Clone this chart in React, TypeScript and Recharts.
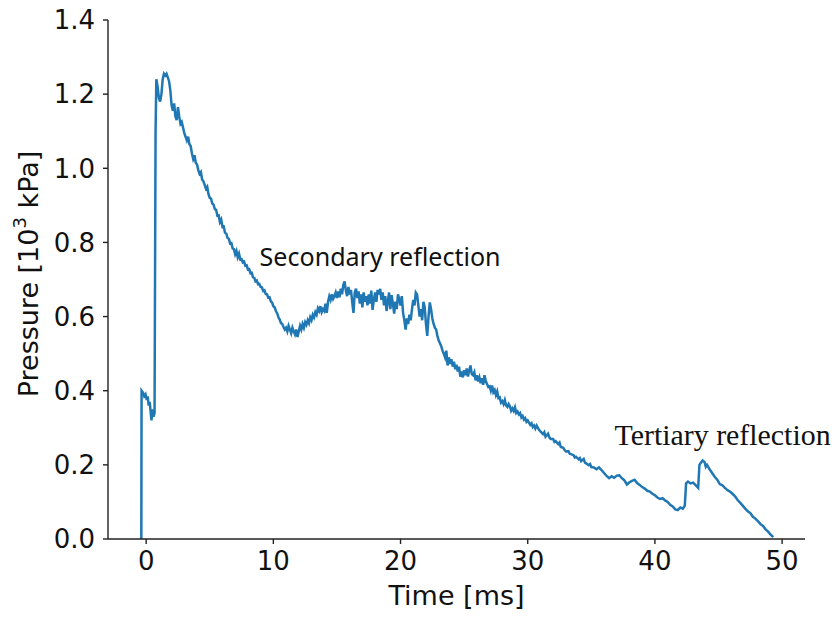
import React from 'react';
import { LineChart, Line, XAxis, YAxis, ReferenceDot } from 'recharts';

// [time ms, pressure 10^3 kPa]
const preShock: number[][] = [
  [-0.5, 0.0], [-0.38, 0.0], [-0.36, 0.4], [-0.25, 0.395], [-0.15, 0.385], [-0.05, 0.39],
  [0.05, 0.375], [0.12, 0.385], [0.2, 0.36], [0.28, 0.37], [0.36, 0.34], [0.42, 0.32],
  [0.5, 0.35], [0.58, 0.33], [0.66, 0.34],
];

const mainPeak: number[][] = [
  [0.74, 1.1], [0.8, 1.24], [0.9, 1.22], [1.0, 1.19], [1.1, 1.18], [1.2, 1.2], [1.3, 1.24],
  [1.4, 1.255], [1.5, 1.25], [1.6, 1.255], [1.7, 1.245], [1.8, 1.235], [1.9, 1.21], [2.0, 1.17],
  [2.1, 1.155], [2.2, 1.175], [2.3, 1.14], [2.4, 1.13], [2.5, 1.165], [2.6, 1.14], [2.7, 1.12],
  [2.8, 1.125], [2.9, 1.11], [3.0, 1.095], [3.1, 1.085], [3.2, 1.075], [3.3, 1.085], [3.4, 1.065],
  [3.5, 1.06], [3.6, 1.04], [3.7, 1.025], [3.8, 1.035], [3.9, 1.015], [4.0, 1.01], [4.1, 0.995],
  [4.2, 0.985], [4.3, 0.99], [4.4, 0.97], [4.5, 0.965], [4.6, 0.955], [4.7, 0.945], [4.8, 0.95],
  [4.9, 0.93], [5.0, 0.92],
];

const firstDecay: number[][] = [
  [5.1, 0.918], [5.2, 0.905], [5.3, 0.902], [5.4, 0.89], [5.5, 0.888], [5.6, 0.872], [5.7, 0.873],
  [5.8, 0.855], [5.9, 0.862], [6.0, 0.842], [6.1, 0.843], [6.2, 0.826], [6.3, 0.824], [6.4, 0.812],
  [6.5, 0.81], [6.6, 0.797], [6.7, 0.798], [6.8, 0.784], [6.9, 0.782], [7.0, 0.768], [7.1, 0.777],
  [7.2, 0.76], [7.3, 0.77], [7.4, 0.754], [7.5, 0.755], [7.6, 0.746], [7.7, 0.748], [7.8, 0.737],
  [7.9, 0.738], [8.0, 0.727], [8.1, 0.728], [8.2, 0.717], [8.3, 0.718], [8.4, 0.706], [8.5, 0.705],
  [8.6, 0.695], [8.7, 0.697], [8.8, 0.687], [8.9, 0.688], [9.0, 0.68], [9.1, 0.679], [9.2, 0.669],
  [9.3, 0.671], [9.4, 0.661], [9.5, 0.66], [9.6, 0.651], [9.7, 0.652], [9.8, 0.641], [9.9, 0.638],
  [10.0, 0.628], [10.1, 0.625], [10.2, 0.615], [10.3, 0.609], [10.4, 0.598], [10.5, 0.592],
  [10.6, 0.582], [10.7, 0.58], [10.8, 0.572], [10.9, 0.565], [11.0, 0.57], [11.1, 0.56],
  [11.2, 0.575], [11.3, 0.565], [11.4, 0.555], [11.5, 0.57], [11.6, 0.56], [11.7, 0.552],
  [11.8, 0.565], [11.9, 0.545], [12.0, 0.56],
];

const secondaryReflection: number[][] = [
  [12.1, 0.575], [12.2, 0.565], [12.3, 0.58], [12.4, 0.57], [12.5, 0.585], [12.6, 0.578],
  [12.7, 0.59], [12.8, 0.582], [12.9, 0.598], [13.0, 0.59], [13.1, 0.605], [13.2, 0.598],
  [13.3, 0.612], [13.4, 0.605], [13.5, 0.622], [13.6, 0.615], [13.7, 0.628], [13.8, 0.612],
  [13.9, 0.62], [14.0, 0.615], [14.1, 0.635], [14.2, 0.61], [14.3, 0.64], [14.4, 0.655],
  [14.5, 0.645], [14.6, 0.66], [14.7, 0.648], [14.8, 0.655], [14.9, 0.665], [15.0, 0.65],
  [15.1, 0.668], [15.2, 0.652], [15.3, 0.675], [15.4, 0.66], [15.5, 0.685], [15.6, 0.695],
  [15.7, 0.67], [15.8, 0.655], [15.9, 0.68], [16.0, 0.66], [16.1, 0.672], [16.2, 0.64],
  [16.3, 0.61], [16.4, 0.665], [16.5, 0.675], [16.6, 0.65], [16.7, 0.668], [16.8, 0.635],
  [16.9, 0.66], [17.0, 0.625], [17.1, 0.665], [17.2, 0.64], [17.3, 0.655], [17.4, 0.63],
  [17.5, 0.66], [17.6, 0.635], [17.7, 0.67], [17.8, 0.618], [17.9, 0.645], [18.0, 0.665],
  [18.1, 0.64], [18.2, 0.672], [18.3, 0.66], [18.4, 0.675], [18.5, 0.645], [18.6, 0.665],
  [18.7, 0.63], [18.8, 0.655], [18.9, 0.615], [19.0, 0.64], [19.1, 0.665], [19.2, 0.62],
  [19.3, 0.658], [19.4, 0.635], [19.5, 0.608], [19.6, 0.64], [19.7, 0.62], [19.8, 0.66],
  [19.9, 0.645], [20.0, 0.63], [20.1, 0.655], [20.2, 0.61], [20.3, 0.59], [20.4, 0.565],
  [20.5, 0.595], [20.6, 0.58], [20.7, 0.605], [20.8, 0.59], [20.9, 0.62], [21.0, 0.645],
  [21.1, 0.63], [21.2, 0.665], [21.3, 0.66], [21.4, 0.63], [21.5, 0.6], [21.6, 0.62],
  [21.7, 0.59], [21.8, 0.64], [21.9, 0.625], [22.0, 0.58], [22.1, 0.548], [22.2, 0.6],
  [22.3, 0.638], [22.4, 0.62], [22.5, 0.595], [22.6, 0.58], [22.7, 0.57], [22.8, 0.565],
  [22.9, 0.548], [23.0, 0.535],
];

const secondDecay: number[][] = [
  [23.1, 0.528], [23.2, 0.52], [23.3, 0.508], [23.4, 0.5], [23.5, 0.49], [23.6, 0.508],
  [23.7, 0.468], [23.8, 0.49], [23.9, 0.472], [24.0, 0.485], [24.1, 0.465], [24.2, 0.478],
  [24.3, 0.458], [24.4, 0.47], [24.5, 0.452], [24.6, 0.465], [24.7, 0.438], [24.8, 0.452],
  [24.9, 0.436], [25.0, 0.455], [25.1, 0.442], [25.2, 0.46], [25.3, 0.438], [25.4, 0.455],
  [25.5, 0.468], [25.6, 0.445], [25.7, 0.442], [25.8, 0.45], [25.9, 0.428], [26.0, 0.442],
  [26.1, 0.425], [26.2, 0.436], [26.3, 0.42], [26.4, 0.434], [26.5, 0.416], [26.6, 0.442],
  [26.7, 0.426], [26.8, 0.418], [26.9, 0.41], [27.0, 0.412], [27.1, 0.4], [27.2, 0.414],
  [27.3, 0.396], [27.4, 0.402], [27.5, 0.388], [27.6, 0.398], [27.7, 0.38], [27.8, 0.382],
  [27.9, 0.368], [28.0, 0.372], [28.1, 0.364], [28.2, 0.375], [28.3, 0.36], [28.4, 0.356],
  [28.5, 0.364], [28.6, 0.358], [28.7, 0.346], [28.8, 0.352], [28.9, 0.345], [29.0, 0.355],
  [29.1, 0.34], [29.2, 0.344], [29.3, 0.336], [29.4, 0.34], [29.5, 0.328], [29.6, 0.332],
  [29.7, 0.322], [29.8, 0.326], [29.9, 0.316], [30.0, 0.32], [30.2, 0.308], [30.3, 0.312],
  [30.4, 0.302], [30.5, 0.306], [30.6, 0.298], [30.7, 0.306], [30.8, 0.3], [30.9, 0.294],
  [31.0, 0.29], [31.2, 0.283], [31.3, 0.288], [31.4, 0.276], [31.6, 0.284], [31.7, 0.274],
  [31.8, 0.27], [32.0, 0.27], [32.1, 0.262], [32.2, 0.264], [32.4, 0.256], [32.5, 0.26],
  [32.6, 0.248], [32.8, 0.246], [32.9, 0.24], [33.0, 0.236], [33.2, 0.237], [33.3, 0.23],
  [33.4, 0.229], [33.6, 0.226], [33.7, 0.22], [33.8, 0.222], [34.0, 0.215], [34.1, 0.218],
  [34.2, 0.21], [34.4, 0.216], [34.5, 0.206], [34.6, 0.204], [34.8, 0.199], [34.9, 0.202],
  [35.0, 0.194], [35.2, 0.193], [35.4, 0.188], [35.6, 0.193], [35.8, 0.186], [36.0, 0.178],
  [36.2, 0.17], [36.4, 0.164], [36.6, 0.169], [36.8, 0.165], [37.0, 0.171], [37.2, 0.172],
  [37.4, 0.164], [37.6, 0.158], [37.8, 0.147], [38.0, 0.153], [38.2, 0.157], [38.4, 0.16],
  [38.6, 0.151], [38.8, 0.146], [39.0, 0.14], [39.2, 0.136], [39.4, 0.13], [39.6, 0.128],
  [39.8, 0.122], [40.0, 0.118], [40.2, 0.112], [40.4, 0.108], [40.6, 0.11], [40.8, 0.104],
  [41.0, 0.1], [41.2, 0.092], [41.4, 0.088], [41.6, 0.08], [41.8, 0.078], [42.0, 0.085],
  [42.2, 0.082], [42.35, 0.09],
];

const tertiaryReflection: number[][] = [
  [42.45, 0.15], [42.6, 0.155], [42.8, 0.15], [43.0, 0.152], [43.2, 0.145], [43.4, 0.138],
  [43.5, 0.2], [43.6, 0.205], [43.75, 0.212], [43.9, 0.208], [44.0, 0.195], [44.1, 0.2],
  [44.3, 0.188], [44.5, 0.178], [44.7, 0.168], [44.9, 0.16], [45.1, 0.148], [45.3, 0.145],
  [45.5, 0.138], [45.7, 0.132], [45.9, 0.128], [46.1, 0.122], [46.3, 0.115], [46.5, 0.105],
  [46.7, 0.098], [46.9, 0.09], [47.1, 0.082], [47.3, 0.075], [47.5, 0.07], [47.7, 0.06],
  [47.9, 0.055], [48.1, 0.048], [48.3, 0.04], [48.5, 0.035], [48.7, 0.026], [48.9, 0.02],
  [49.1, 0.012], [49.3, 0.005],
];

const xTicks = [0, 10, 20, 30, 40, 50];
const yTicks = [0, 0.2, 0.4, 0.6, 0.8, 1.0, 1.2, 1.4];

const series = [
  ...preShock, ...mainPeak, ...firstDecay, ...secondaryReflection, ...secondDecay, ...tertiaryReflection,
].map(([t, p]) => ({ t, p }));

const axisColor = '#222';
const tickFont = { fontSize: 26, fill: '#111', fontFamily: 'DejaVu Sans' };

const SecondaryLabel = (props: any) => {
  const vb = props.viewBox || {};
  return (
    <text x={vb.x} y={vb.y} fontFamily="'Noto Sans', 'Open Sans', sans-serif" fontSize={25} fill="#111"
      textLength={241} lengthAdjust="spacingAndGlyphs">
      Secondary reflection
    </text>
  );
};

const TertiaryLabel = (props: any) => {
  const vb = props.viewBox || {};
  return (
    <text x={vb.x} y={vb.y} fontFamily="'Liberation Serif', 'Times New Roman', serif" fontSize={30} fill="#111"
      textLength={216} lengthAdjust="spacingAndGlyphs">
      Tertiary reflection
    </text>
  );
};

const YLabel = () => (
  <text x={38} y={274} transform="rotate(-90 38 274)" textAnchor="middle"
    fontFamily="DejaVu Sans" fontSize={27} fill="#111">
    <tspan>Pressure [10</tspan>
    <tspan fontSize={18} dy={-12}>3</tspan>
    <tspan dy={12}> kPa]</tspan>
  </text>
);

const XLabel = () => (
  <text x={456.5} y={605} textAnchor="middle" fontFamily="DejaVu Sans" fontSize={27} fill="#111">
    Time [ms]
  </text>
);

export default function App() {
  return (
    <div style={{ position: 'absolute', left: 0, top: 0, width: 839, height: 619, background: '#fff' }}>
      <LineChart width={839} height={619} data={series} margin={{ top: 20, right: 34, left: 0, bottom: 0 }}>
        <XAxis
          dataKey="t"
          type="number"
          domain={[-3, 51.8]}
          ticks={xTicks}
          allowDataOverflow
          height={80}
          tickSize={5}
          tickMargin={8}
          stroke={axisColor}
          strokeWidth={1.4}
          tick={tickFont}
          label={{ content: XLabel }}
        />
        <YAxis
          type="number"
          domain={[0, 1.4]}
          ticks={yTicks}
          allowDataOverflow
          width={108}
          tickSize={5}
          tickMargin={8}
          stroke={axisColor}
          strokeWidth={1.4}
          tick={tickFont}
          tickFormatter={(v: number) => v.toFixed(1)}
          label={{ content: YLabel }}
        />
        <Line
          type="linear"
          dataKey="p"
          stroke="#1f77b4"
          strokeWidth={2.5}
          dot={false}
          isAnimationActive={false}
        />
        <ReferenceDot x={8.92} y={0.736} r={0} fill="none" stroke="none" ifOverflow="visible"
          label={{ content: SecondaryLabel }} />
        <ReferenceDot x={36.83} y={0.2526} r={0} fill="none" stroke="none" ifOverflow="visible"
          label={{ content: TertiaryLabel }} />
      </LineChart>
    </div>
  );
}
